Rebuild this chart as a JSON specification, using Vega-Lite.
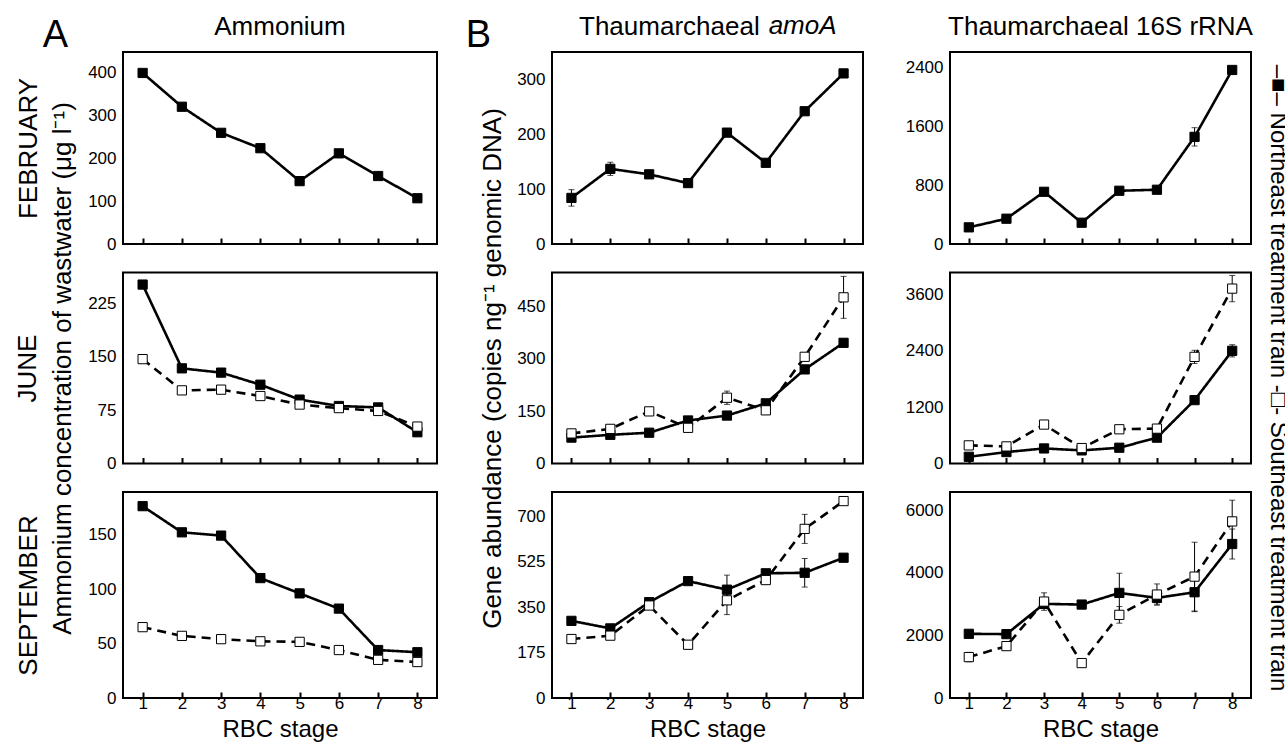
{
  "$schema": "https://vega.github.io/schema/vega-lite/v6.json",
  "padding": {"left": 13, "top": 13, "right": 0, "bottom": 0},
  "spacing": 40,
  "resolve": {"scale": {"y": "independent"}},
  "title": {"text": "B", "anchor": "start", "frame": "bounds", "fontSize": 38, "dx": 452, "dy": 42, "offset": 0},
  "datasets": {
    "d": [
      {"p":"A1","t":"NE","s":1,"v":400,"e":0},{"p":"A1","t":"NE","s":2,"v":321,"e":0},{"p":"A1","t":"NE","s":3,"v":260,"e":0},{"p":"A1","t":"NE","s":4,"v":224,"e":0},{"p":"A1","t":"NE","s":5,"v":147,"e":0},{"p":"A1","t":"NE","s":6,"v":212,"e":0},{"p":"A1","t":"NE","s":7,"v":159,"e":0},{"p":"A1","t":"NE","s":8,"v":107,"e":0},
      {"p":"A2","t":"NE","s":1,"v":252,"e":0},{"p":"A2","t":"NE","s":2,"v":134,"e":0},{"p":"A2","t":"NE","s":3,"v":128,"e":0},{"p":"A2","t":"NE","s":4,"v":111,"e":0},{"p":"A2","t":"NE","s":5,"v":90,"e":0},{"p":"A2","t":"NE","s":6,"v":81,"e":0},{"p":"A2","t":"NE","s":7,"v":79,"e":0},{"p":"A2","t":"NE","s":8,"v":44,"e":0},
      {"p":"A2","t":"SE","s":1,"v":147,"e":0},{"p":"A2","t":"SE","s":2,"v":103,"e":0},{"p":"A2","t":"SE","s":3,"v":104,"e":0},{"p":"A2","t":"SE","s":4,"v":95,"e":0},{"p":"A2","t":"SE","s":5,"v":83,"e":0},{"p":"A2","t":"SE","s":6,"v":78,"e":0},{"p":"A2","t":"SE","s":7,"v":74,"e":0},{"p":"A2","t":"SE","s":8,"v":52,"e":0},
      {"p":"A3","t":"NE","s":1,"v":176,"e":0},{"p":"A3","t":"NE","s":2,"v":152,"e":0},{"p":"A3","t":"NE","s":3,"v":149,"e":0},{"p":"A3","t":"NE","s":4,"v":110,"e":0},{"p":"A3","t":"NE","s":5,"v":96,"e":0},{"p":"A3","t":"NE","s":6,"v":82,"e":0},{"p":"A3","t":"NE","s":7,"v":44,"e":0},{"p":"A3","t":"NE","s":8,"v":42,"e":0},
      {"p":"A3","t":"SE","s":1,"v":65,"e":0},{"p":"A3","t":"SE","s":2,"v":57,"e":0},{"p":"A3","t":"SE","s":3,"v":54,"e":0},{"p":"A3","t":"SE","s":4,"v":52,"e":0},{"p":"A3","t":"SE","s":5,"v":51.5,"e":0},{"p":"A3","t":"SE","s":6,"v":44,"e":0},{"p":"A3","t":"SE","s":7,"v":35,"e":0},{"p":"A3","t":"SE","s":8,"v":33,"e":0},
      {"p":"B1","t":"NE","s":1,"v":84,"e":15},{"p":"B1","t":"NE","s":2,"v":137,"e":12},{"p":"B1","t":"NE","s":3,"v":127,"e":4},{"p":"B1","t":"NE","s":4,"v":111,"e":7},{"p":"B1","t":"NE","s":5,"v":203,"e":0},{"p":"B1","t":"NE","s":6,"v":148,"e":0},{"p":"B1","t":"NE","s":7,"v":242,"e":0},{"p":"B1","t":"NE","s":8,"v":311,"e":5},
      {"p":"B2","t":"NE","s":1,"v":74,"e":0},{"p":"B2","t":"NE","s":2,"v":82,"e":0},{"p":"B2","t":"NE","s":3,"v":88,"e":0},{"p":"B2","t":"NE","s":4,"v":123,"e":0},{"p":"B2","t":"NE","s":5,"v":137,"e":0},{"p":"B2","t":"NE","s":6,"v":172,"e":0},{"p":"B2","t":"NE","s":7,"v":269,"e":0},{"p":"B2","t":"NE","s":8,"v":345,"e":0},
      {"p":"B2","t":"SE","s":1,"v":86,"e":10},{"p":"B2","t":"SE","s":2,"v":99,"e":0},{"p":"B2","t":"SE","s":3,"v":149,"e":0},{"p":"B2","t":"SE","s":4,"v":102,"e":0},{"p":"B2","t":"SE","s":5,"v":188,"e":19},{"p":"B2","t":"SE","s":6,"v":152,"e":0},{"p":"B2","t":"SE","s":7,"v":305,"e":0},{"p":"B2","t":"SE","s":8,"v":475,"e":60},
      {"p":"B3","t":"NE","s":1,"v":297,"e":0},{"p":"B3","t":"NE","s":2,"v":268,"e":10},{"p":"B3","t":"NE","s":3,"v":369,"e":0},{"p":"B3","t":"NE","s":4,"v":450,"e":0},{"p":"B3","t":"NE","s":5,"v":417,"e":56},{"p":"B3","t":"NE","s":6,"v":480,"e":0},{"p":"B3","t":"NE","s":7,"v":482,"e":55},{"p":"B3","t":"NE","s":8,"v":540,"e":0},
      {"p":"B3","t":"SE","s":1,"v":227,"e":0},{"p":"B3","t":"SE","s":2,"v":240,"e":15},{"p":"B3","t":"SE","s":3,"v":356,"e":0},{"p":"B3","t":"SE","s":4,"v":205,"e":0},{"p":"B3","t":"SE","s":5,"v":376,"e":55},{"p":"B3","t":"SE","s":6,"v":454,"e":0},{"p":"B3","t":"SE","s":7,"v":651,"e":56},{"p":"B3","t":"SE","s":8,"v":758,"e":0},
      {"p":"C1","t":"NE","s":1,"v":227,"e":0},{"p":"C1","t":"NE","s":2,"v":345,"e":0},{"p":"C1","t":"NE","s":3,"v":712,"e":0},{"p":"C1","t":"NE","s":4,"v":290,"e":0},{"p":"C1","t":"NE","s":5,"v":726,"e":0},{"p":"C1","t":"NE","s":6,"v":740,"e":0},{"p":"C1","t":"NE","s":7,"v":1461,"e":125},{"p":"C1","t":"NE","s":8,"v":2373,"e":0},
      {"p":"C2","t":"NE","s":1,"v":143,"e":0},{"p":"C2","t":"NE","s":2,"v":243,"e":0},{"p":"C2","t":"NE","s":3,"v":321,"e":0},{"p":"C2","t":"NE","s":4,"v":279,"e":0},{"p":"C2","t":"NE","s":5,"v":336,"e":0},{"p":"C2","t":"NE","s":6,"v":550,"e":0},{"p":"C2","t":"NE","s":7,"v":1350,"e":0},{"p":"C2","t":"NE","s":8,"v":2400,"e":130},
      {"p":"C2","t":"SE","s":1,"v":386,"e":0},{"p":"C2","t":"SE","s":2,"v":364,"e":0},{"p":"C2","t":"SE","s":3,"v":829,"e":60},{"p":"C2","t":"SE","s":4,"v":329,"e":0},{"p":"C2","t":"SE","s":5,"v":729,"e":0},{"p":"C2","t":"SE","s":6,"v":743,"e":0},{"p":"C2","t":"SE","s":7,"v":2271,"e":140},{"p":"C2","t":"SE","s":8,"v":3725,"e":280},
      {"p":"C3","t":"NE","s":1,"v":2053,"e":100},{"p":"C3","t":"NE","s":2,"v":2043,"e":0},{"p":"C3","t":"NE","s":3,"v":3011,"e":150},{"p":"C3","t":"NE","s":4,"v":2989,"e":0},{"p":"C3","t":"NE","s":5,"v":3362,"e":630},{"p":"C3","t":"NE","s":6,"v":3202,"e":200},{"p":"C3","t":"NE","s":7,"v":3383,"e":620},{"p":"C3","t":"NE","s":8,"v":4926,"e":480},
      {"p":"C3","t":"SE","s":1,"v":1309,"e":150},{"p":"C3","t":"SE","s":2,"v":1660,"e":0},{"p":"C3","t":"SE","s":3,"v":3085,"e":280},{"p":"C3","t":"SE","s":4,"v":1117,"e":0},{"p":"C3","t":"SE","s":5,"v":2660,"e":266},{"p":"C3","t":"SE","s":6,"v":3309,"e":340},{"p":"C3","t":"SE","s":7,"v":3883,"e":1100},{"p":"C3","t":"SE","s":8,"v":5649,"e":680}
    ]
  },
  "hconcat": [
    {
      "title": {"text": "A", "anchor": "start", "frame": "bounds", "fontSize": 38, "dx": 29, "dy": 42, "offset": 0},
      "spacing": 28.5,
      "bounds": "flush",
      "resolve": {"scale": {"y": "independent"}},
      "vconcat": [
        {
          "width": 314, "height": 192,
          "title": {"text": "Ammonium"},
          "data": {"name": "d"},
          "transform": [{"filter": "datum.p === 'A1'"}],
          "encoding": {
            "x": {"field": "s", "type": "quantitative", "scale": {"domain": [0.5, 8.5], "nice": false}, "axis": {"values": [1,2,3,4,5,6,7,8], "labels": false, "title": null}},
            "y": {"field": "v", "type": "quantitative", "scale": {"domain": [0, 449], "nice": false}, "axis": {"values": [0,100,200,300,400], "format": "d", "title": "FEBRUARY", "titlePadding": 46}}
          },
          "layer": [
            {"mark": {"type": "line", "color": "black", "strokeWidth": 2.6}, "encoding": {"strokeDash": {"field": "t", "type": "nominal", "scale": {"domain": ["NE","SE"], "range": [[1,0],[9,6]]}, "legend": null}}},
            {"mark": {"type": "point", "shape": "square", "size": 85, "filled": true, "opacity": 1, "stroke": "black", "strokeWidth": 1}, "encoding": {"fill": {"field": "t", "type": "nominal", "scale": {"domain": ["NE","SE"], "range": ["black","white"]}, "legend": null}}}
          ]
        },
        {
          "width": 314, "height": 191,
          "data": {"name": "d"},
          "transform": [{"filter": "datum.p === 'A2'"}],
          "encoding": {
            "x": {"field": "s", "type": "quantitative", "scale": {"domain": [0.5, 8.5], "nice": false}, "axis": {"values": [1,2,3,4,5,6,7,8], "labels": false, "title": null}},
            "y": {"field": "v", "type": "quantitative", "scale": {"domain": [0, 269], "nice": false}, "axis": {"values": [0,75,150,225], "format": "d", "title": ["JUNE", "Ammonium concentration of wastwater (μg l⁻¹)"], "titlePadding": 12, "titleLineHeight": 35}}
          },
          "layer": [
            {"mark": {"type": "line", "color": "black", "strokeWidth": 2.6}, "encoding": {"strokeDash": {"field": "t", "type": "nominal", "scale": {"domain": ["NE","SE"], "range": [[1,0],[9,6]]}, "legend": null}}},
            {"mark": {"type": "point", "shape": "square", "size": 85, "filled": true, "opacity": 1, "stroke": "black", "strokeWidth": 1}, "encoding": {"fill": {"field": "t", "type": "nominal", "scale": {"domain": ["NE","SE"], "range": ["black","white"]}, "legend": null}}}
          ]
        },
        {
          "width": 314, "height": 206,
          "data": {"name": "d"},
          "transform": [{"filter": "datum.p === 'A3'"}],
          "encoding": {
            "x": {"field": "s", "type": "quantitative", "scale": {"domain": [0.5, 8.5], "nice": false}, "axis": {"values": [1,2,3,4,5,6,7,8], "title": "RBC stage", "titlePadding": 6}},
            "y": {"field": "v", "type": "quantitative", "scale": {"domain": [0, 189], "nice": false}, "axis": {"values": [0,50,100,150], "format": "d", "title": "SEPTEMBER", "titlePadding": 46}}
          },
          "layer": [
            {"mark": {"type": "line", "color": "black", "strokeWidth": 2.6}, "encoding": {"strokeDash": {"field": "t", "type": "nominal", "scale": {"domain": ["NE","SE"], "range": [[1,0],[9,6]]}, "legend": null}}},
            {"mark": {"type": "point", "shape": "square", "size": 85, "filled": true, "opacity": 1, "stroke": "black", "strokeWidth": 1}, "encoding": {"fill": {"field": "t", "type": "nominal", "scale": {"domain": ["NE","SE"], "range": ["black","white"]}, "legend": null}}}
          ]
        }
      ]
    },
    {
      "title": {"text": "amoA", "fontStyle": "italic", "anchor": "start", "frame": "bounds", "dx": 290, "dy": 26, "offset": 0},
      "spacing": 28.5,
      "bounds": "flush",
      "resolve": {"scale": {"y": "independent"}},
      "vconcat": [
        {
          "width": 311, "height": 192,
          "title": {"text": "Thaumarchaeal", "anchor": "start", "dx": 27},
          "data": {"name": "d"},
          "transform": [{"filter": "datum.p === 'B1'"}],
          "encoding": {
            "x": {"field": "s", "type": "quantitative", "scale": {"domain": [0.5, 8.5], "nice": false}, "axis": {"values": [1,2,3,4,5,6,7,8], "labels": false, "title": null}},
            "y": {"field": "v", "type": "quantitative", "scale": {"domain": [0, 350], "nice": false}, "axis": {"values": [0,100,200,300], "format": "d", "title": null}}
          },
          "layer": [
            {"mark": {"type": "line", "color": "black", "strokeWidth": 2.6}, "encoding": {"strokeDash": {"field": "t", "type": "nominal", "scale": {"domain": ["NE","SE"], "range": [[1,0],[9,6]]}, "legend": null}}},
            {"transform": [{"filter": "datum.e > 0"}], "mark": {"type": "errorbar", "ticks": {"size": 6}, "color": "black", "thickness": 1}, "encoding": {"yError": {"field": "e"}}},
            {"mark": {"type": "point", "shape": "square", "size": 85, "filled": true, "opacity": 1, "stroke": "black", "strokeWidth": 1}, "encoding": {"fill": {"field": "t", "type": "nominal", "scale": {"domain": ["NE","SE"], "range": ["black","white"]}, "legend": null}}}
          ]
        },
        {
          "width": 311, "height": 191,
          "data": {"name": "d"},
          "transform": [{"filter": "datum.p === 'B2'"}],
          "encoding": {
            "x": {"field": "s", "type": "quantitative", "scale": {"domain": [0.5, 8.5], "nice": false}, "axis": {"values": [1,2,3,4,5,6,7,8], "labels": false, "title": null}},
            "y": {"field": "v", "type": "quantitative", "scale": {"domain": [0, 546], "nice": false}, "axis": {"values": [0,150,300,450], "format": "d", "title": "Gene abundance (copies ng⁻¹ genomic DNA)", "titlePadding": 11}}
          },
          "layer": [
            {"mark": {"type": "line", "color": "black", "strokeWidth": 2.6}, "encoding": {"strokeDash": {"field": "t", "type": "nominal", "scale": {"domain": ["NE","SE"], "range": [[1,0],[9,6]]}, "legend": null}}},
            {"transform": [{"filter": "datum.e > 0"}], "mark": {"type": "errorbar", "ticks": {"size": 6}, "color": "black", "thickness": 1}, "encoding": {"yError": {"field": "e"}}},
            {"mark": {"type": "point", "shape": "square", "size": 85, "filled": true, "opacity": 1, "stroke": "black", "strokeWidth": 1}, "encoding": {"fill": {"field": "t", "type": "nominal", "scale": {"domain": ["NE","SE"], "range": ["black","white"]}, "legend": null}}}
          ]
        },
        {
          "width": 311, "height": 206,
          "data": {"name": "d"},
          "transform": [{"filter": "datum.p === 'B3'"}],
          "encoding": {
            "x": {"field": "s", "type": "quantitative", "scale": {"domain": [0.5, 8.5], "nice": false}, "axis": {"values": [1,2,3,4,5,6,7,8], "title": "RBC stage", "titlePadding": 6}},
            "y": {"field": "v", "type": "quantitative", "scale": {"domain": [0, 793], "nice": false}, "axis": {"values": [0,175,350,525,700], "format": "d", "title": null}}
          },
          "layer": [
            {"mark": {"type": "line", "color": "black", "strokeWidth": 2.6}, "encoding": {"strokeDash": {"field": "t", "type": "nominal", "scale": {"domain": ["NE","SE"], "range": [[1,0],[9,6]]}, "legend": null}}},
            {"transform": [{"filter": "datum.e > 0"}], "mark": {"type": "errorbar", "ticks": {"size": 6}, "color": "black", "thickness": 1}, "encoding": {"yError": {"field": "e"}}},
            {"mark": {"type": "point", "shape": "square", "size": 85, "filled": true, "opacity": 1, "stroke": "black", "strokeWidth": 1}, "encoding": {"fill": {"field": "t", "type": "nominal", "scale": {"domain": ["NE","SE"], "range": ["black","white"]}, "legend": null}}}
          ]
        }
      ]
    },
    {
      "spacing": 28.5,
      "bounds": "flush",
      "resolve": {"scale": {"y": "independent"}},
      "vconcat": [
        {
          "width": 301, "height": 192,
          "title": {"text": "Thaumarchaeal 16S rRNA"},
          "data": {"name": "d"},
          "transform": [{"filter": "datum.p === 'C1'"}],
          "encoding": {
            "x": {"field": "s", "type": "quantitative", "scale": {"domain": [0.5, 8.5], "nice": false}, "axis": {"values": [1,2,3,4,5,6,7,8], "labels": false, "title": null}},
            "y": {"field": "v", "type": "quantitative", "scale": {"domain": [0, 2618], "nice": false}, "axis": {"values": [0,800,1600,2400], "format": "d", "title": null}}
          },
          "layer": [
            {"mark": {"type": "line", "color": "black", "strokeWidth": 2.6}, "encoding": {"strokeDash": {"field": "t", "type": "nominal", "scale": {"domain": ["NE","SE"], "range": [[1,0],[9,6]]}, "legend": null}}},
            {"transform": [{"filter": "datum.e > 0"}], "mark": {"type": "errorbar", "ticks": {"size": 6}, "color": "black", "thickness": 1}, "encoding": {"yError": {"field": "e"}}},
            {"mark": {"type": "point", "shape": "square", "size": 85, "filled": true, "opacity": 1, "stroke": "black", "strokeWidth": 1}, "encoding": {"fill": {"field": "t", "type": "nominal", "scale": {"domain": ["NE","SE"], "range": ["black","white"]}, "legend": null}}}
          ]
        },
        {
          "width": 301, "height": 191,
          "data": {"name": "d"},
          "transform": [{"filter": "datum.p === 'C2'"}],
          "encoding": {
            "x": {"field": "s", "type": "quantitative", "scale": {"domain": [0.5, 8.5], "nice": false}, "axis": {"values": [1,2,3,4,5,6,7,8], "labels": false, "title": null}}
          },
          "resolve": {"axis": {"y": "independent"}},
          "layer": [
            {"mark": {"type": "line", "color": "black", "strokeWidth": 2.6}, "encoding": {
              "y": {"field": "v", "type": "quantitative", "scale": {"domain": [0, 4068], "nice": false}, "axis": {"values": [0,1200,2400,3600], "format": "d", "title": null}},
              "strokeDash": {"field": "t", "type": "nominal", "scale": {"domain": ["NE","SE"], "range": [[1,0],[9,6]]}, "legend": null}}},
            {"transform": [{"filter": "datum.e > 0"}], "mark": {"type": "errorbar", "ticks": {"size": 6}, "color": "black", "thickness": 1}, "encoding": {
              "y": {"field": "v", "type": "quantitative", "scale": {"domain": [0, 4068], "nice": false}, "axis": null},
              "yError": {"field": "e"}}},
            {"mark": {"type": "point", "shape": "square", "size": 85, "filled": true, "opacity": 1, "stroke": "black", "strokeWidth": 1}, "encoding": {
              "y": {"field": "v", "type": "quantitative", "scale": {"domain": [0, 4068], "nice": false}, "axis": {"orient": "right", "labels": false, "ticks": false, "domain": false, "title": "–■– Northeast treatment train  -□- Southeast treatment train", "titleFontSize": 24, "titleAngle": 90, "titlePadding": 14, "titleY": 105}},
              "fill": {"field": "t", "type": "nominal", "scale": {"domain": ["NE","SE"], "range": ["black","white"]}, "legend": null}}}
          ]
        },
        {
          "width": 301, "height": 206,
          "data": {"name": "d"},
          "transform": [{"filter": "datum.p === 'C3'"}],
          "encoding": {
            "x": {"field": "s", "type": "quantitative", "scale": {"domain": [0.5, 8.5], "nice": false}, "axis": {"values": [1,2,3,4,5,6,7,8], "title": "RBC stage", "titlePadding": 6}},
            "y": {"field": "v", "type": "quantitative", "scale": {"domain": [0, 6590], "nice": false}, "axis": {"values": [0,2000,4000,6000], "format": "d", "title": null}}
          },
          "layer": [
            {"mark": {"type": "line", "color": "black", "strokeWidth": 2.6}, "encoding": {"strokeDash": {"field": "t", "type": "nominal", "scale": {"domain": ["NE","SE"], "range": [[1,0],[9,6]]}, "legend": null}}},
            {"transform": [{"filter": "datum.e > 0"}], "mark": {"type": "errorbar", "ticks": {"size": 6}, "color": "black", "thickness": 1}, "encoding": {"yError": {"field": "e"}}},
            {"mark": {"type": "point", "shape": "square", "size": 85, "filled": true, "opacity": 1, "stroke": "black", "strokeWidth": 1}, "encoding": {"fill": {"field": "t", "type": "nominal", "scale": {"domain": ["NE","SE"], "range": ["black","white"]}, "legend": null}}}
          ]
        }
      ]
    }
  ],
  "config": {
    "font": "Liberation Sans",
    "background": "white",
    "view": {"stroke": "black", "strokeWidth": 2},
    "axis": {"grid": false, "domain": false, "labelFont": "Liberation Sans", "labelFontSize": 17, "labelColor": "black", "titleFont": "Liberation Sans", "titleFontSize": 26, "titleFontWeight": "normal", "titleColor": "black"},
    "axisX": {"ticks": true, "tickSize": -6, "tickWidth": 2, "tickColor": "black", "labelPadding": 3, "titleFontSize": 24},
    "axisY": {"ticks": false, "labelPadding": 7},
    "title": {"font": "Liberation Sans", "fontSize": 26, "fontWeight": "normal", "color": "black", "frame": "group", "anchor": "middle", "offset": 12}
  }
}
